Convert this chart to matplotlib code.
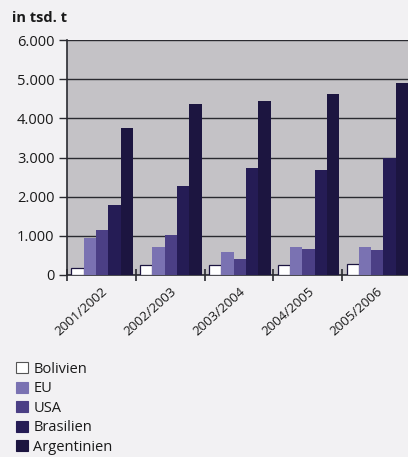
import numpy as np
import matplotlib.pyplot as plt
from matplotlib.patches import Patch

# Soja-Produktion, Werte in tsd. t
jahre = ['2001/2002', '2002/2003', '2003/2004', '2004/2005', '2005/2006']
laender = ['Bolivien', 'EU', 'USA', 'Brasilien', 'Argentinien']
bolivien = [170, 245, 245, 262, 270]
eu = [940, 726, 590, 709, 726]
usa = [1150, 1030, 420, 658, 641]
brasilien = [1780, 2278, 2743, 2692, 2979]
argentinien = [3765, 4358, 4434, 4613, 4910]

farben = ['#ffffff', '#7a72b2', '#4b3f85', '#251c55', '#1c1540']
werte = [bolivien, eu, usa, brasilien, argentinien]

plt.rcParams['font.family'] = ['Open Sans', 'DejaVu Sans']

fig = plt.figure(figsize=(4.08, 4.57), dpi=100)
fig.patch.set_facecolor('#f2f1f3')
ax = fig.add_axes([67/408, 182/457, 344/408, 235/457])
ax.set_facecolor('#c4c2c6')

x = np.arange(len(jahre))
breite = 0.179
for k, (w, c) in enumerate(zip(werte, farben)):
    ax.bar(x + 0.063 + k*breite, w, width=breite, align='edge', color=c,
           edgecolor='#1c1540' if k == 0 else 'none', linewidth=0.9, zorder=3)

ax.set_xlim(0, len(jahre))
ax.set_ylim(0, 6000)
ax.set_yticks(np.arange(0, 6001, 1000))
ax.set_yticklabels(['0', '1.000', '2.000', '3.000', '4.000', '5.000', '6.000'],
                   fontsize=10.5, color='#1a1a1a')
ax.yaxis.grid(True, color='#2a2a30', linewidth=1.0, zorder=1)
ax.tick_params(axis='y', length=6, width=1, color='#2a2a30', pad=3)

# Striche an den Gruppengrenzen, Beschriftung in der Mitte
ax.set_xticks(np.arange(0, len(jahre)))
ax.set_xticklabels([])
ax.tick_params(axis='x', which='major', direction='inout', length=9, width=1.2, color='#2a2a30')
ax.set_xticks(x + 0.5, minor=True)
ax.set_xticklabels(jahre, minor=True, rotation=42, ha='right', va='top',
                   rotation_mode='anchor', fontsize=9.5, color='#1a1a1a')
ax.tick_params(axis='x', which='minor', length=0, pad=7)

for s in ['top', 'right']:
    ax.spines[s].set_visible(False)
for s in ['left', 'bottom']:
    ax.spines[s].set_color('#2a2a30')
    ax.spines[s].set_linewidth(1.2)

fig.text(12/408, 1 - 18/457, 'in tsd. t', fontsize=10.5, fontweight='bold',
         va='center', ha='left', color='#1a1a1a')

handles = [Patch(facecolor=c, edgecolor='#555555' if i == 0 else c, linewidth=0.8)
           for i, c in enumerate(farben)]
fig.legend(handles, laender, loc='upper left', bbox_to_anchor=(10/408, 1 - 356/457),
           frameon=False, fontsize=10.5, handlelength=0.8, handleheight=0.8,
           handletextpad=0.4, labelspacing=0.31, borderaxespad=0,
           labelcolor='#1a1a1a')

fig.savefig('out.png', dpi=100, facecolor=fig.get_facecolor())
